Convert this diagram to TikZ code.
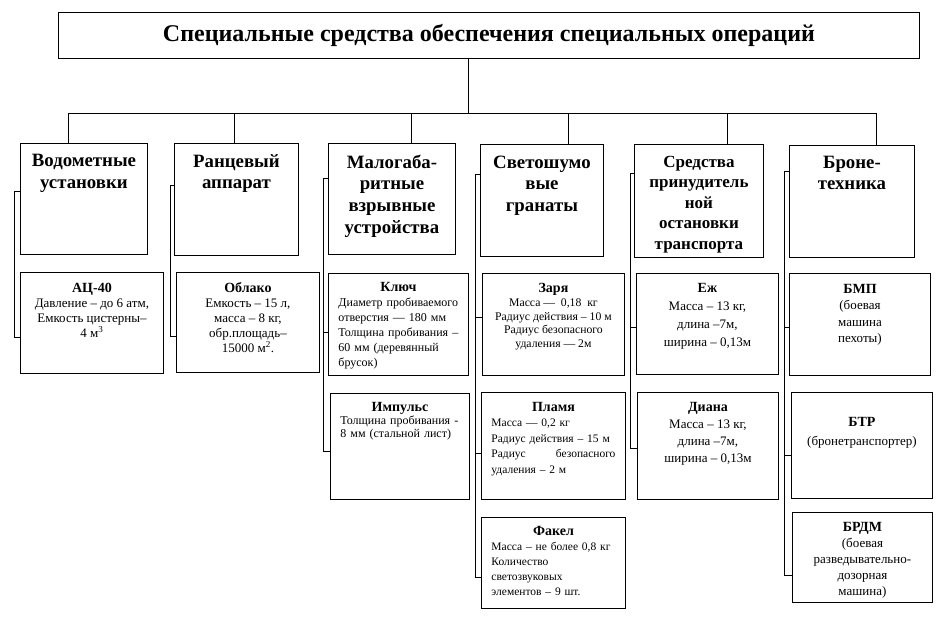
\documentclass[tikz,border=0pt]{standalone}
\usepackage{fontspec}
\setmainfont{Liberation Serif}
\usetikzlibrary{positioning}
\setlength\parindent{0pt}

% bold caption of a lower box
\newcommand\boxtitle[1]{{\bfseries\fontsize{14}{15}\selectfont #1}}

\begin{document}
\begin{tikzpicture}[
    x=1pt, y=-1pt,
    box/.style={draw, line width=0.9pt, anchor=north west, inner sep=0pt},
    headtext/.style={anchor=north, align=center, inner sep=0pt,
                     font=\bfseries\fontsize{18.8}{21.8}\selectfont},
    subtext/.style={anchor=north, align=center, inner sep=0pt,
                    font=\fontsize{13}{15}\selectfont},
    subleft/.style={subtext, align=left, text width=#1},
    link/.style={line width=0.9pt}
]
\useasboundingbox (0,0) rectangle (947,617);

% Title
\node[box, minimum width=861, minimum height=46,
      font=\bfseries\fontsize{24}{26}\selectfont] (top) at (58,12)
      {Специальные средства обеспечения специальных операций};

% Upper boxes
\node[box, minimum width=127, minimum height=111] (h1) at (20,143) {};
\node[box, minimum width=124, minimum height=112] (h2) at (174,143) {};
\node[box, minimum width=127, minimum height=111] (h3) at (328,143) {};
\node[box, minimum width=123, minimum height=112] (h4) at (480,144) {};
\node[box, minimum width=129, minimum height=113] (h5) at (634,144) {};
\node[box, minimum width=125, minimum height=112] (h6) at (789,145) {};

\node[headtext] (h1-t) at ([yshift=-11pt]h1.north) {Водометные\\установки};
\node[headtext] (h2-t) at ([yshift=-11pt]h2.north) {Ранцевый\\аппарат};
\node[headtext] (h3-t) at ([yshift=-11.5pt]h3.north) {Малогаба-\\ритные\\взрывные\\устройства};
\node[headtext] (h4-t) at ([yshift=-11.5pt]h4.north) {Светошумо\\вые\\гранаты};
\node[headtext, font=\bfseries\fontsize{17}{20.4}\selectfont] (h5-t)
      at ([yshift=-12pt]h5.north) {Средства\\принудитель\\ной\\остановки\\транспорта};
\node[headtext] (h6-t) at ([yshift=-10.5pt]h6.north) {Броне-\\техника};

% Lower boxes
\node[box, minimum width=143, minimum height=101] (s1) at (20,272) {};
\node[box, minimum width=143, minimum height=100] (s2) at (176,272) {};
\node[box, minimum width=140, minimum height=102] (s3a) at (328,273) {};
\node[box, minimum width=139, minimum height=106] (s3b) at (330,393) {};
\node[box, minimum width=142, minimum height=102] (s4a) at (482,273) {};
\node[box, minimum width=144, minimum height=107] (s4b) at (481,392) {};
\node[box, minimum width=144, minimum height=91] (s4c) at (481,517) {};
\node[box, minimum width=142, minimum height=101] (s5a) at (636,273) {};
\node[box, minimum width=141, minimum height=107] (s5b) at (637,392) {};
\node[box, minimum width=141, minimum height=102] (s6a) at (789,273) {};
\node[box, minimum width=141, minimum height=106] (s6b) at (791,392) {};
\node[box, minimum width=140, minimum height=90] (s6c) at (792,512) {};

\node[subtext] (s1-t) at ([yshift=-10.5pt]s1.north)
    {\boxtitle{АЦ-40}\\Давление – до 6 атм,\\Емкость цистерны–\\4 м\textsuperscript{3}};
\node[subtext] (s2-t) at ([yshift=-10pt]s2.north)
    {\boxtitle{Облако}\\Емкость – 15 л,\\масса – 8 кг,\\обр.площадь–\\15000 м\textsuperscript{2}.};
\node[subleft=120pt, font=\fontsize{12}{15}\selectfont] (s3a-t) at ([yshift=-9pt]s3a.north)
    {\centerline{\boxtitle{Ключ}}
     Диаметр пробиваемого\\отверстия — 180 мм\\Толщина пробивания –\\60 мм (деревянный\\брусок)};
\node[subleft=119pt, font=\fontsize{12}{13}\selectfont] (s3b-t) at ([yshift=-9pt]s3b.north)
    {\centerline{\boxtitle{Импульс}}
     Толщина пробивания -\\8 мм (стальной лист)};
\node[subtext, font=\fontsize{11.7}{13.8}\selectfont] (s4a-t) at ([yshift=-10pt]s4a.north)
    {\boxtitle{Заря}\\Масса —~ 0,18~ кг\\Радиус действия – 10 м\\Радиус безопасного\\удаления — 2м};
\node[subleft=124pt, font=\fontsize{11.5}{15.5}\selectfont] (s4b-t) at ([yshift=-10pt]s4b.north)
    {\centerline{\boxtitle{Пламя}}
     Масса — 0,2 кг\\Радиус действия – 15 м\\\leavevmode\hbox to 124pt{Радиус\hfill безопасного}\\удаления – 2 м};
\node[subleft=124pt, font=\fontsize{11.5}{15}\selectfont] (s4c-t) at ([yshift=-9.5pt]s4c.north)
    {\centerline{\boxtitle{Факел}}
     Масса – не более 0,8 кг\\Количество\\светозвуковых\\элементов – 9 шт.};
\node[subtext, font=\fontsize{13}{18.2}\selectfont] (s5a-t) at ([yshift=-10pt]s5a.north)
    {\boxtitle{Еж}\\Масса – 13 кг,\\длина –7м,\\ширина – 0,13м};
\node[subtext, font=\fontsize{13}{17.2}\selectfont] (s5b-t) at ([yshift=-10pt]s5b.north)
    {\boxtitle{Диана}\\Масса – 13 кг,\\длина –7м,\\ширина – 0,13м};
\node[subtext, font=\fontsize{13}{16.4}\selectfont] (s6a-t) at ([yshift=-11pt]s6a.north)
    {\boxtitle{БМП}\\(боевая\\машина\\пехоты)};
\node[subtext, font=\fontsize{13}{19.5}\selectfont] (s6b-t) at ([yshift=-25pt]s6b.north)
    {\boxtitle{БТР}\\(бронетранспортер)};
\node[subtext, font=\fontsize{13}{16}\selectfont] (s6c-t) at ([yshift=-10pt]s6c.north)
    {\boxtitle{БРДМ}\\(боевая\\разведывательно-\\дозорная\\машина)};

% Title down to the bus, bus down to the upper boxes
\coordinate (bus) at (468,113);
\coordinate (d1) at (68,113);
\coordinate (d2) at (234,113);
\coordinate (d3) at (411,113);
\coordinate (d4) at (568,113);
\coordinate (d5) at (727,113);
\coordinate (d6) at (876,113);
\draw[link] (top.south -| bus) -- (bus);
\draw[link] (d1) -- (d6);
\draw[link] (d1) -- (d1 |- h1.north);
\draw[link] (d2) -- (d2 |- h2.north);
\draw[link] (d3) -- (d3 |- h3.north);
\draw[link] (d4) -- (d4 |- h4.north);
\draw[link] (d5) -- (d5 |- h5.north);
\draw[link] (d6) -- (d6 |- h6.north);

% Side lines from each upper box to its lower boxes
\draw[link] (h1.west |- 0,191) -| (14,337) -- (s1.west |- 0,337);
\draw[link] (h2.west |- 0,185) -| (170,336) -- (s2.west |- 0,336);
\draw[link] (h3.west |- 0,178) -| (323,451) -- (s3b.west |- 0,451);
\draw[link] (323,332) -- (s3a.west |- 0,332);
\draw[link] (h4.west |- 0,174) -| (475,577) -- (s4c.west |- 0,577);
\draw[link] (475,317) -- (s4a.west |- 0,317);
\draw[link] (475,453) -- (s4b.west |- 0,453);
\draw[link] (h5.west |- 0,173) -| (630,448) -- (s5b.west |- 0,448);
\draw[link] (630,327) -- (s5a.west |- 0,327);
\draw[link] (h6.west |- 0,171) -| (784,575) -- (s6c.west |- 0,575);
\draw[link] (784,327) -- (s6a.west |- 0,327);
\draw[link] (784,455) -- (s6b.west |- 0,455);

\end{tikzpicture}
\end{document}
